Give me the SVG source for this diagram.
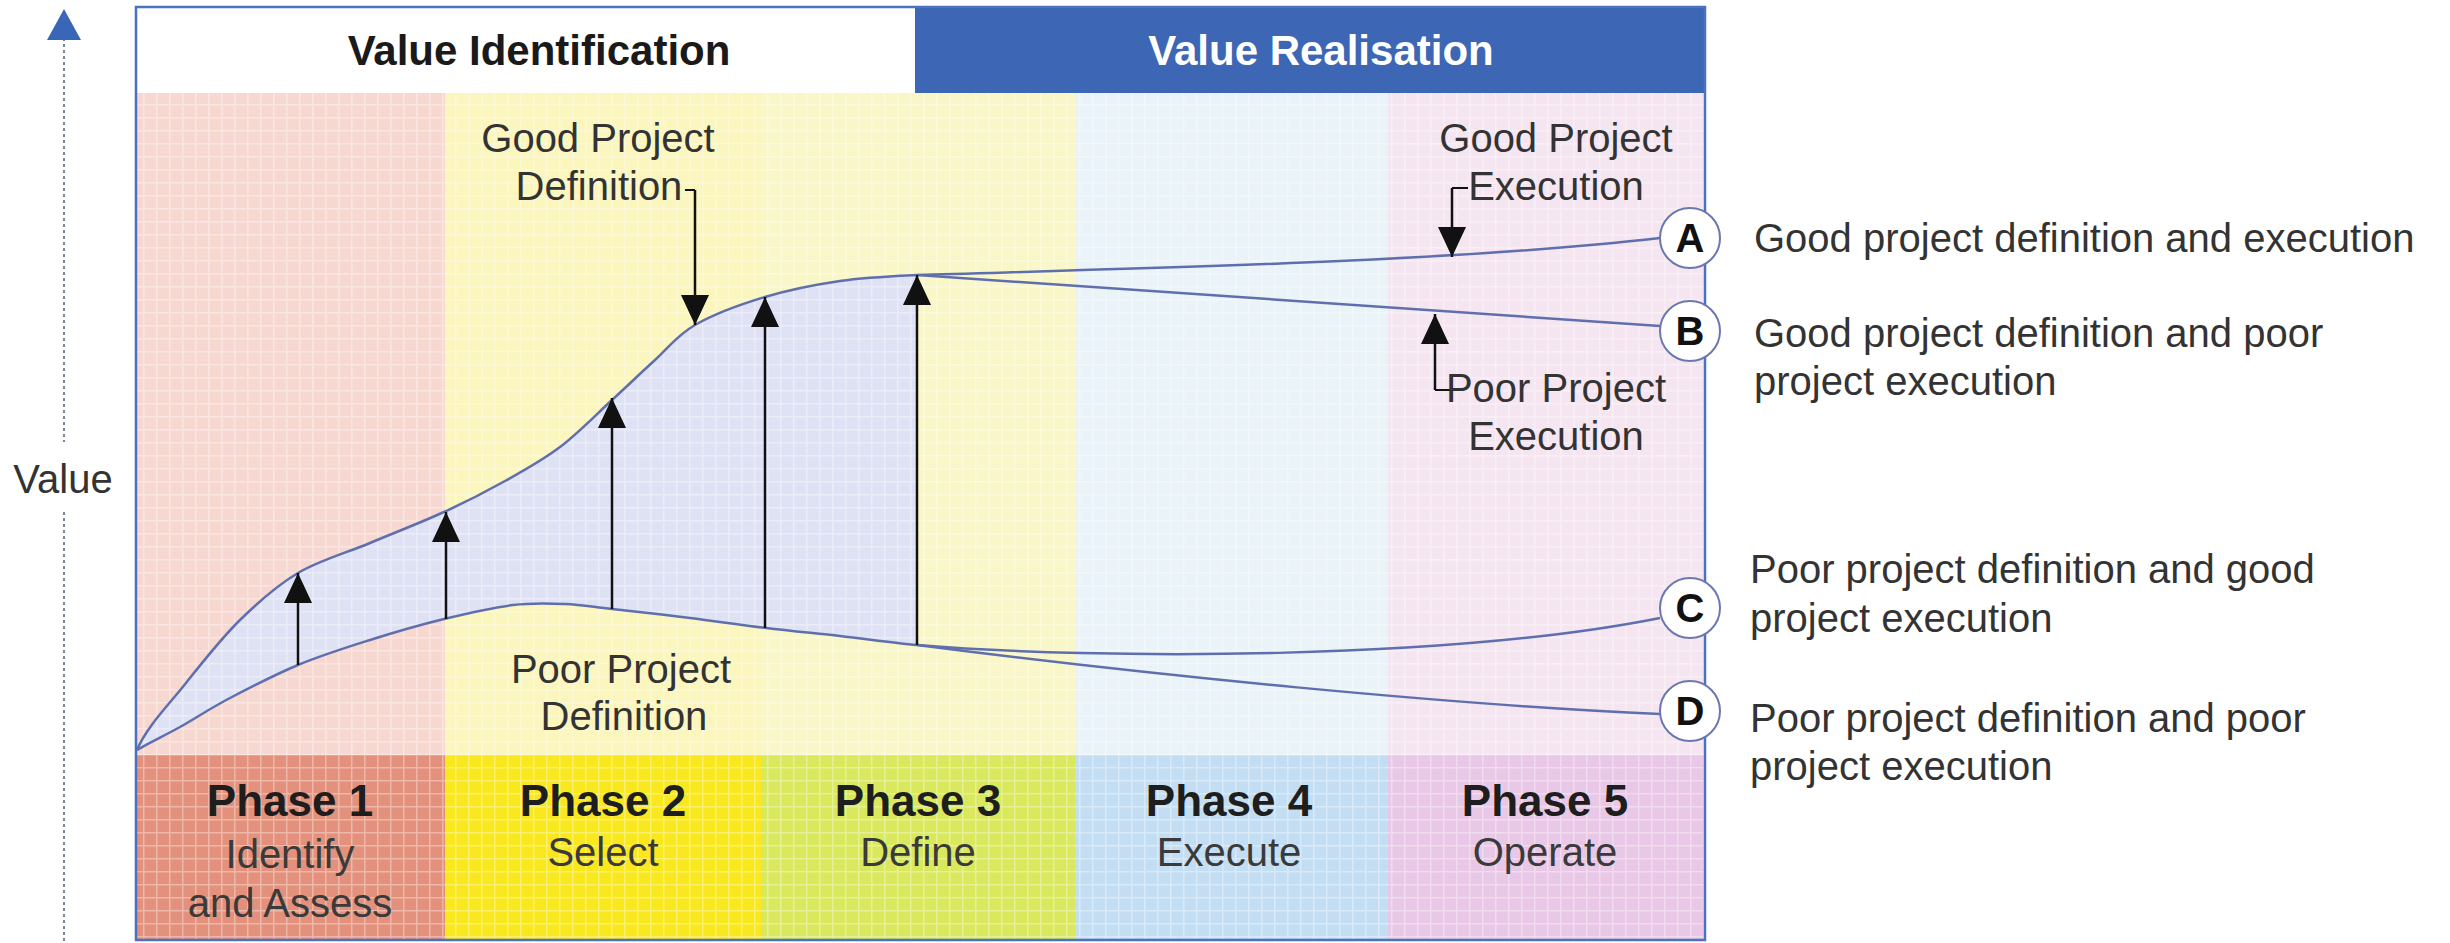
<svg xmlns="http://www.w3.org/2000/svg" width="2450" height="943" viewBox="0 0 2450 943">
  <defs>
    <style>
      .t { font-family: "Liberation Sans", Arial, sans-serif; font-size: 40px; fill: #333; }
      .c { text-anchor: middle; }
      .hdr { font-family: "Liberation Sans", Arial, sans-serif; font-size: 42px; font-weight: bold; text-anchor: middle; }
      .ph { font-family: "Liberation Sans", Arial, sans-serif; font-size: 44px; font-weight: bold; text-anchor: middle; fill: #1e1e1e; }
      .sub { font-family: "Liberation Sans", Arial, sans-serif; font-size: 40px; text-anchor: middle; fill: #3a3a3a; }
      .lt { font-family: "Liberation Sans", Arial, sans-serif; font-size: 40px; font-weight: bold; text-anchor: middle; fill: #111; }
      .curve { fill: none; stroke: #5f6fae; stroke-width: 2.5; }
      .arr { fill: none; stroke: #111; stroke-width: 2.5; marker-end: url(#head); }
      .brk { fill: none; stroke: #111; stroke-width: 2; }
      .ring { fill: #fff; stroke: #6b78b0; stroke-width: 2; }
    </style>
    <marker id="head" viewBox="0 0 30 28" refX="30" refY="14" markerWidth="30" markerHeight="28" markerUnits="userSpaceOnUse" orient="auto">
      <path d="M0,0 L30,14 L0,28 Z" fill="#111"/>
    </marker>
    <pattern id="grid" width="13" height="13" patternUnits="userSpaceOnUse">
      <path d="M0,0.75H13M0.75,0V13" stroke="#ffffff" stroke-opacity="0.35" stroke-width="1.5" fill="none"/>
    </pattern>
  </defs>

  <rect width="2450" height="943" fill="#ffffff"/>

  <!-- Value axis -->
  <g id="value-axis">
    <line x1="64" y1="38" x2="64" y2="442" stroke="#7d8496" stroke-width="2" stroke-dasharray="3 3"/>
    <line x1="64" y1="512" x2="64" y2="943" stroke="#7d8496" stroke-width="2" stroke-dasharray="3 3"/>
    <path d="M64,9 L81,40 L47,40 Z" fill="#3a66b8"/>
    <text class="t c" x="63" y="493">Value</text>
  </g>

  <!-- Header bands -->
  <g id="value-identification">
    <rect x="136" y="7" width="779" height="86" fill="#ffffff"/>
    <text class="hdr" x="539" y="65" fill="#1a1a1a">Value Identification</text>
  </g>
  <g id="value-realisation">
    <rect x="915" y="7" width="790" height="86" fill="#3d66b5"/>
    <text class="hdr" x="1321" y="65" fill="#ffffff">Value Realisation</text>
  </g>

  <!-- Phase columns: upper area and lower label band -->
  <g id="phase-1">
    <rect x="136" y="93" width="309" height="662" fill="#f7d8d1"/>
    <rect x="136" y="755" width="309" height="185" fill="#e3907c"/>
  </g>
  <g id="phase-2">
    <rect x="445" y="93" width="316" height="662" fill="#fbf5be"/>
    <rect x="445" y="755" width="316" height="185" fill="#f9e81e"/>
  </g>
  <g id="phase-3">
    <rect x="761" y="93" width="314" height="662" fill="#f9f7c8"/>
    <rect x="761" y="755" width="314" height="185" fill="#d9e85c"/>
  </g>
  <g id="phase-4">
    <rect x="1075" y="93" width="313" height="662" fill="#eaf3f8"/>
    <rect x="1075" y="755" width="313" height="185" fill="#c3ddf2"/>
  </g>
  <g id="phase-5">
    <rect x="1388" y="93" width="317" height="662" fill="#f5e5f1"/>
    <rect x="1388" y="755" width="317" height="185" fill="#e9c7e6"/>
  </g>

  <!-- Value gap between good and poor definition -->
  <path id="value-gap" fill="#dfe2f4" d="M137,750 C146.3,727.2 168.8,704.7 186,683 C203.2,661.3 221.3,638.3 240,620 C258.7,601.7 276.3,585.8 298,573 C319.7,560.2 345.7,553.2 370,543 C394.3,532.8 421.5,522.3 444,512 C466.5,501.7 485.7,491.8 505,481 C524.3,470.2 542.2,460.5 560,447 C577.8,433.5 596.2,414.5 612,400 C627.8,385.5 641.2,372.5 655,360 C668.8,347.5 676.7,335.5 695,325 C713.3,314.5 740.8,304.3 765,297 C789.2,289.7 814.7,284.7 840,281 C865.3,277.3 892,276.2 917,275 L917,645 C892,642.7 865.2,638.8 840,636 C814.8,633.2 791,631 766,628 C741,625 715.7,621.2 690,618 C664.3,614.8 632.8,611.3 612,609 C591.2,606.7 581.5,604.7 565,604 C548.5,603.3 533.2,602.5 513,605 C492.8,607.5 467.8,613.2 444,619 C420.2,624.8 394.3,632.3 370,640 C345.7,647.7 321.3,655.3 298,665 C274.7,674.7 249.7,687.7 230,698 C210.3,708.3 195.5,718.3 180,727 C164.5,735.7 148.7,742.8 137,750 Z"/>

  <!-- Graph-paper texture over the chart body -->
  <rect x="136" y="93" width="1569" height="847" fill="url(#grid)"/>

  <!-- Connectors: value curves, outcome lines and arrows -->
  <g id="connectors">
    <path class="curve" d="M137,750 C146.3,727.2 168.8,704.7 186,683 C203.2,661.3 221.3,638.3 240,620 C258.7,601.7 276.3,585.8 298,573 C319.7,560.2 345.7,553.2 370,543 C394.3,532.8 421.5,522.3 444,512 C466.5,501.7 485.7,491.8 505,481 C524.3,470.2 542.2,460.5 560,447 C577.8,433.5 596.2,414.5 612,400 C627.8,385.5 641.2,372.5 655,360 C668.8,347.5 676.7,335.5 695,325 C713.3,314.5 740.8,304.3 765,297 C789.2,289.7 814.7,284.7 840,281 C865.3,277.3 892,276.2 917,275"/>
    <path class="curve" d="M137,750 C148.7,742.8 164.5,735.7 180,727 C195.5,718.3 210.3,708.3 230,698 C249.7,687.7 274.7,674.7 298,665 C321.3,655.3 345.7,647.7 370,640 C394.3,632.3 420.2,624.8 444,619 C467.8,613.2 492.8,607.5 513,605 C533.2,602.5 548.5,603.3 565,604 C581.5,604.7 591.2,606.7 612,609 C632.8,611.3 664.3,614.8 690,618 C715.7,621.2 741,625 766,628 C791,631 814.8,633.2 840,636 C865.2,638.8 892,642.7 917,645"/>
    <!-- A: good definition, good execution -->
    <path class="curve" d="M917,275 C1150,268 1450,262 1660,238"/>
    <!-- B: good definition, poor execution -->
    <path class="curve" d="M917,275 L1660,326"/>
    <!-- C: poor definition, good execution -->
    <path class="curve" d="M917,645 C1100,660 1450,660 1660,618"/>
    <!-- D: poor definition, poor execution -->
    <path class="curve" d="M917,645 C1150,675 1450,705 1660,714"/>

    <!-- value-gap arrows -->
    <line class="arr" x1="298" y1="665" x2="298" y2="573"/>
    <line class="arr" x1="446" y1="619" x2="446" y2="512"/>
    <line class="arr" x1="612" y1="609" x2="612" y2="398"/>
    <line class="arr" x1="765" y1="628" x2="765" y2="297"/>
    <line class="arr" x1="917" y1="645" x2="917" y2="275"/>

    <!-- callout arrows -->
    <path class="brk" d="M685,190 H695"/>
    <line class="arr" x1="695" y1="190" x2="695" y2="325"/>
    <path class="brk" d="M1468,188 H1452"/>
    <line class="arr" x1="1452" y1="188" x2="1452" y2="257"/>
    <path class="brk" d="M1450,390 H1435"/>
    <line class="arr" x1="1435" y1="390" x2="1435" y2="314"/>
  </g>

  <!-- Callout labels -->
  <g id="good-project-definition">
    <text class="t c" x="598" y="152">Good Project</text>
    <text class="t c" x="599" y="200">Definition</text>
  </g>
  <g id="poor-project-definition">
    <text class="t c" x="621" y="683">Poor Project</text>
    <text class="t c" x="624" y="730">Definition</text>
  </g>
  <g id="good-project-execution">
    <text class="t c" x="1556" y="152">Good Project</text>
    <text class="t c" x="1556" y="200">Execution</text>
  </g>
  <g id="poor-project-execution">
    <text class="t c" x="1556" y="402">Poor Project</text>
    <text class="t c" x="1556" y="450">Execution</text>
  </g>

  <!-- Phase labels -->
  <g id="phase-1-label">
    <text class="ph" x="290" y="816">Phase 1</text>
    <text class="sub" x="290" y="868">Identify</text>
    <text class="sub" x="290" y="917">and Assess</text>
  </g>
  <g id="phase-2-label">
    <text class="ph" x="603" y="816">Phase 2</text>
    <text class="sub" x="603" y="866">Select</text>
  </g>
  <g id="phase-3-label">
    <text class="ph" x="918" y="816">Phase 3</text>
    <text class="sub" x="918" y="866">Define</text>
  </g>
  <g id="phase-4-label">
    <text class="ph" x="1229" y="816">Phase 4</text>
    <text class="sub" x="1229" y="866">Execute</text>
  </g>
  <g id="phase-5-label">
    <text class="ph" x="1545" y="816">Phase 5</text>
    <text class="sub" x="1545" y="866">Operate</text>
  </g>

  <!-- Chart frame -->
  <rect x="136" y="7" width="1569" height="933" fill="none" stroke="#4a72c0" stroke-width="2.5"/>

  <!-- Outcome markers and legend -->
  <g id="outcome-a">
    <circle class="ring" cx="1690" cy="238" r="30"/>
    <text class="lt" x="1690" y="252">A</text>
    <text class="t" x="1754" y="252">Good project definition and execution</text>
  </g>
  <g id="outcome-b">
    <circle class="ring" cx="1690" cy="331" r="30"/>
    <text class="lt" x="1690" y="345">B</text>
    <text class="t" x="1754" y="347">Good project definition and poor</text>
    <text class="t" x="1754" y="395">project execution</text>
  </g>
  <g id="outcome-c">
    <circle class="ring" cx="1690" cy="608" r="30"/>
    <text class="lt" x="1690" y="622">C</text>
    <text class="t" x="1750" y="583">Poor project definition and good</text>
    <text class="t" x="1750" y="632">project execution</text>
  </g>
  <g id="outcome-d">
    <circle class="ring" cx="1690" cy="711" r="30"/>
    <text class="lt" x="1690" y="725">D</text>
    <text class="t" x="1750" y="732">Poor project definition and poor</text>
    <text class="t" x="1750" y="780">project execution</text>
  </g>
</svg>
